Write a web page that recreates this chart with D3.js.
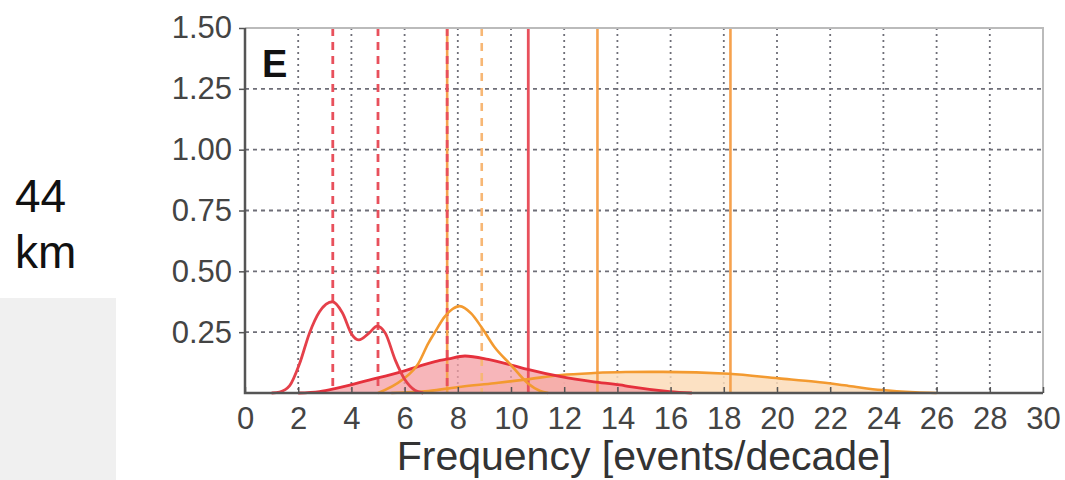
<!DOCTYPE html>
<html>
<head>
<meta charset="utf-8">
<script src="https://cdn.jsdelivr.net/npm/d3@7"></script>
<style>
  body { margin: 0; background: #fff; }
  svg { display: block; font-family: "Liberation Sans", Arial, sans-serif; }
</style>
</head>
<body>
<div id="main"></div>
<script>
// density curves
const redBimodalX = [1.0, 1.3, 1.68, 2.05, 2.42, 2.8, 3.29, 3.66, 4.02, 4.28, 4.66, 4.97, 5.28, 5.65, 6.02, 6.4, 6.7];
const redBimodalY = [0, 0.004, 0.03, 0.12, 0.245, 0.334, 0.375, 0.33, 0.24, 0.218, 0.246, 0.275, 0.245, 0.135, 0.053, 0.01, 0];

const orangePeakX = [5.0, 5.9, 6.52, 6.89, 7.14, 7.51, 7.8, 8.07, 8.5, 8.88, 9.37, 10.0, 10.63, 11.1, 11.4];
const orangePeakY = [0, 0.053, 0.122, 0.204, 0.25, 0.314, 0.345, 0.357, 0.327, 0.272, 0.19, 0.115, 0.04, 0.008, 0];

const redBroadX = [2.0, 2.8, 3.42, 4.66, 5.9, 7.14, 7.64, 8.27, 9.14, 10.01, 10.63, 11.88, 13.12, 14.1, 14.47, 15.97, 16.8];
const redBroadY = [0, 0.006, 0.019, 0.053, 0.088, 0.129, 0.14, 0.152, 0.138, 0.115, 0.097, 0.067, 0.046, 0.033, 0.026, 0.006, 0];

const orangeBroadX = [5.5, 6.9, 8.13, 9.37, 10.6, 11.88, 13.12, 14.3, 15.72, 18.2, 20.07, 21.45, 22.7, 23.94, 25.2, 26.0];
const orangeBroadY = [0, 0.008, 0.026, 0.04, 0.056, 0.074, 0.082, 0.086, 0.087, 0.079, 0.06, 0.046, 0.029, 0.012, 0.003, 0];

// vertical marker lines
const redDashed = [3.3, 5.0, 7.6];
const orangeDashed = [8.9];
const redSolid = [10.65];
const orangeSolid = [7.6, 13.25, 18.25];

const xTicks = d3.range(0, 31, 2);
const yTicks = [0.25, 0.5, 0.75, 1.0, 1.25, 1.5];

const
  width = 1065,
  height = 480,
  marginLeft = 245, marginTop = 28,
  plotW = 798, plotH = 365;

const x = d3.scaleLinear().domain([0, 30]).range([0, plotW]);
const y = d3.scaleLinear().domain([0, 1.5]).range([plotH, 0]);

const zip = (xs, ys) => xs.map((v, i) => [v, ys[i]]);

const svg = d3.select('#main').append('svg').attr('width', width).attr('height', height);

// side label panel
svg.append('rect').attr('x', 0).attr('y', 298).attr('width', 116).attr('height', 182).attr('fill', '#f0f0f0');
svg.append('text').attr('x', 15).attr('y', 212).attr('font-size', 46).attr('fill', '#111').text('44');
svg.append('text').attr('x', 15).attr('y', 268).attr('font-size', 46).attr('fill', '#111').text('km');

const g = svg.append('g').attr('transform', `translate(${marginLeft}, ${marginTop})`);

// grid
g.append('g').selectAll('line').data(xTicks.filter(d => d > 0 && d < 30)).join('line')
  .attr('x1', d => x(d)).attr('x2', d => x(d)).attr('y1', 0).attr('y2', plotH)
  .attr('stroke', '#6f6f78').attr('stroke-width', 1.8).attr('stroke-dasharray', '2,4');
g.append('g').selectAll('line').data(yTicks.filter(d => d < 1.5)).join('line')
  .attr('x1', 0).attr('x2', plotW).attr('y1', d => y(d)).attr('y2', d => y(d))
  .attr('stroke', '#6f6f78').attr('stroke-width', 1.8).attr('stroke-dasharray', '4,4');

const area = d3.area().x(d => x(d[0])).y0(y(0)).y1(d => y(d[1])).curve(d3.curveMonotoneX);
const line = d3.line().x(d => x(d[0])).y(d => y(d[1])).curve(d3.curveMonotoneX);

// fills
g.append('path').attr('d', area(zip(orangeBroadX, orangeBroadY))).attr('fill', '#fbdcb8').attr('opacity', 0.85);
g.append('path').attr('d', area(zip(redBroadX, redBroadY))).attr('fill', '#f49ea3').attr('opacity', 0.75);

// vertical markers
const vline = (vals, color, dash, w) => g.append('g').selectAll('line').data(vals).join('line')
  .attr('x1', d => x(d)).attr('x2', d => x(d)).attr('y1', 0).attr('y2', plotH)
  .attr('stroke', color).attr('stroke-width', w).attr('stroke-dasharray', dash);

vline(orangeSolid, '#f6a24e', null, 2.6);
vline(orangeDashed, '#f7b775', '8,7', 2.6);
vline(redSolid, '#e8505c', null, 2.8);
vline(redDashed, '#e8505c', '8,6', 2.8);

// curves
g.append('path').attr('d', line(zip(orangeBroadX, orangeBroadY))).attr('fill', 'none').attr('stroke', '#f39a30').attr('stroke-width', 2.6);
g.append('path').attr('d', line(zip(redBroadX, redBroadY))).attr('fill', 'none').attr('stroke', '#e5303c').attr('stroke-width', 2.8);
g.append('path').attr('d', line(zip(orangePeakX, orangePeakY))).attr('fill', 'none').attr('stroke', '#f39a30').attr('stroke-width', 2.6);
g.append('path').attr('d', line(zip(redBimodalX, redBimodalY))).attr('fill', 'none').attr('stroke', '#e5404a').attr('stroke-width', 2.8);

// frame
g.append('path').attr('d', `M0,0H${plotW}V${plotH}`).attr('fill', 'none').attr('stroke', '#bbb').attr('stroke-width', 2);
g.append('path').attr('d', `M0,0V${plotH}H${plotW}`).attr('fill', 'none').attr('stroke', '#555').attr('stroke-width', 2.5);

// axes
const xAxis = d3.axisBottom(x).tickValues(xTicks).tickSize(-6).tickPadding(10).tickFormat(d3.format('d'));
const yAxis = d3.axisLeft(y).tickValues(yTicks).tickSize(6).tickPadding(6).tickFormat(d3.format('.2f'));

const gx = g.append('g').attr('transform', `translate(0, ${plotH})`).call(xAxis);
const gy = g.append('g').call(yAxis);
[gx, gy].forEach(a => {
  a.select('.domain').remove();
  a.selectAll('.tick line').attr('stroke', '#555').attr('stroke-width', 1.5);
  a.selectAll('.tick text').attr('font-size', 31).attr('fill', '#444').attr('font-family', '"Liberation Sans", Arial, sans-serif');
});
gx.selectAll('.tick text').attr('dy', '0.85em');
gy.selectAll('.tick text').attr('x', -13);

g.append('text').attr('x', 17).attr('y', 49).attr('font-size', 38).attr('font-weight', 'bold').attr('fill', '#111').text('E');

svg.append('text').attr('x', 644).attr('y', 470).attr('text-anchor', 'middle')
  .attr('font-size', 41).attr('fill', '#333').text('Frequency [events/decade]');
</script>
</body>
</html>
